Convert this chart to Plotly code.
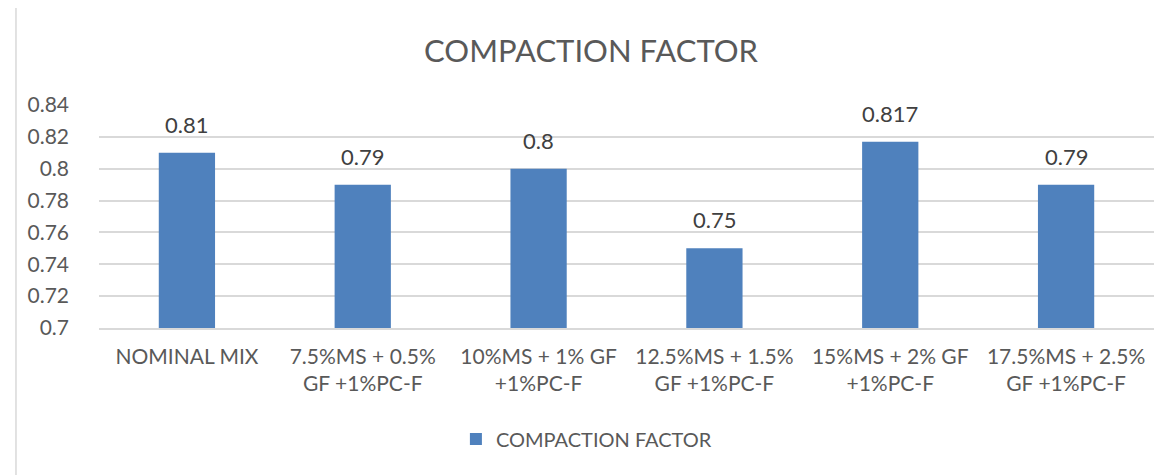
import plotly.graph_objects as go

categories = ["NOMINAL MIX", "7.5%MS + 0.5%<br>GF +1%PC-F", "10%MS + 1% GF<br>+1%PC-F",
              "12.5%MS + 1.5%<br>GF +1%PC-F", "15%MS + 2% GF<br>+1%PC-F", "17.5%MS + 2.5%<br>GF +1%PC-F"]
values = [0.81, 0.79, 0.8, 0.75, 0.817, 0.79]
labels = ["0.81", "0.79", "0.8", "0.75", "0.817", "0.79"]
tick_vals = [0.7, 0.72, 0.74, 0.76, 0.78, 0.8, 0.82, 0.84]
tick_text = ["0.7", "0.72", "0.74", "0.76", "0.78", "0.8", "0.82", "0.84"]

FONT = "Lato"
GREY = "#595959"

fig = go.Figure(go.Bar(
    x=categories, y=values, name="COMPACTION FACTOR",
    marker=dict(color="#4F81BD", line=dict(width=0)),
))

for c, v, t in zip(categories, values, labels):
    fig.add_annotation(x=c, y=v, text=t, showarrow=False, yanchor="bottom", yshift=13,
                       font=dict(family=FONT, size=22, color="#404040"))

fig.update_layout(
    width=1166, height=475,
    paper_bgcolor="white", plot_bgcolor="white",
    margin=dict(l=91, r=20, t=97, b=155, autoexpand=False),
    title=dict(text="COMPACTION FACTOR", x=0.5, xanchor="center", y=0.9097, yanchor="middle",
               font=dict(family=FONT, size=31, color=GREY)),
    bargap=0.68,
    showlegend=True,
    legend=dict(orientation="h", x=0.462, xanchor="center", y=-0.498, yanchor="middle",
                font=dict(family=FONT, size=20, color=GREY)),
    yaxis=dict(range=[0.7, 0.84], tickvals=tick_vals, ticktext=tick_text, automargin=False,
               showgrid=True, gridcolor="#D9D9D9", gridwidth=1.5, zeroline=False,
               showline=False, ticks="", ticklen=0, ticklabelstandoff=29,
               tickfont=dict(family=FONT, size=21, color=GREY)),
    xaxis=dict(showline=True, linecolor="#D9D9D9", linewidth=1.5, ticks="", automargin=False,
               ticklabelstandoff=9,
               tickfont=dict(family=FONT, size=21, color=GREY)),
    shapes=[
        dict(type="line", xref="paper", yref="paper", x0=-0.0787, x1=1.019, y0=1.444, y1=1.444,
             line=dict(color="#D9D9D9", width=1.5)),
        dict(type="line", xref="paper", yref="paper", x0=-0.0787, x1=-0.0787, y0=1.444, y1=-0.664,
             line=dict(color="#D9D9D9", width=1.5)),
    ],
)

fig.write_html("out.html")
